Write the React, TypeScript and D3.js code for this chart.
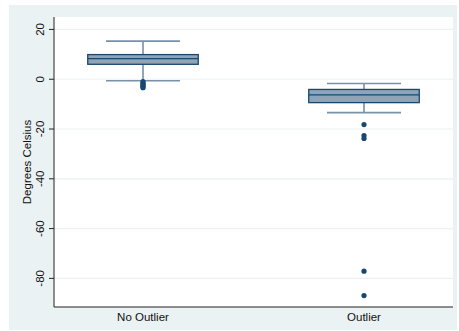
import React from "react";
import * as d3 from "d3";

// Box-plot summary per group (degrees Celsius)
const categories = ["No Outlier", "Outlier"];
const whiskerHigh = [15.3, -1.7];
const q3 = [9.9, -4.1];
const median = [8.3, -6.3];
const q1 = [6.0, -9.4];
const whiskerLow = [-0.6, -13.4];
const outliers = [
  [-1.0, -1.5, -2.0, -2.5, -3.0, -3.4],
  [-18.2, -22.6, -23.8, -77.1, -86.9],
];
const yTicks = [20, 0, -20, -40, -60, -80];

const W = 459;
const H = 331;
const plot = { left: 54, right: 453, top: 17, bottom: 307 };
const FONT = "'Liberation Sans', Arial, sans-serif";
const NAVY = "#1a476f";
const BOXFILL = "#8ea4b9";
const WHISKER = "#7890a8";

export default function App() {
  const y = d3.scaleLinear().domain([-91.5, 25]).range([plot.bottom, plot.top]);
  const x = d3
    .scalePoint<string>()
    .domain(categories)
    .range([plot.left, plot.right])
    .padding(0.4027);
  const step = x.step();
  const boxW = step * 0.5;
  const capW = boxW * 0.67;

  return (
    <div style={{ position: "fixed", left: 0, top: 0 }}>
      <svg width={W} height={H} style={{ display: "block" }}>
        <rect x={0} y={0} width={W} height={H} fill="#ffffff" />
        <rect x={9} y={5} width={448} height={325} fill="#eaf2f3" />
        <rect
          x={plot.left}
          y={plot.top}
          width={plot.right - plot.left}
          height={plot.bottom - plot.top}
          fill="#ffffff"
        />
        {/* gridlines */}
        {yTicks.map((t) => (
          <line
            key={"g" + t}
            x1={plot.left}
            x2={plot.right}
            y1={y(t)}
            y2={y(t)}
            stroke="#eaf2f3"
            strokeWidth={1.2}
          />
        ))}
        {/* boxes */}
        {categories.map((c, i) => {
          const cx = x(c) as number;
          return (
            <g key={c}>
              <line x1={cx} x2={cx} y1={y(whiskerHigh[i])} y2={y(q3[i])} stroke={WHISKER} strokeWidth={1.6} />
              <line x1={cx} x2={cx} y1={y(q1[i])} y2={y(whiskerLow[i])} stroke={WHISKER} strokeWidth={1.6} />
              <line
                x1={cx - capW / 2}
                x2={cx + capW / 2}
                y1={y(whiskerHigh[i])}
                y2={y(whiskerHigh[i])}
                stroke={WHISKER}
                strokeWidth={1.6}
              />
              <line
                x1={cx - capW / 2}
                x2={cx + capW / 2}
                y1={y(whiskerLow[i])}
                y2={y(whiskerLow[i])}
                stroke={WHISKER}
                strokeWidth={1.6}
              />
              <rect
                x={cx - boxW / 2}
                y={y(q3[i])}
                width={boxW}
                height={y(q1[i]) - y(q3[i])}
                fill={BOXFILL}
                stroke={NAVY}
                strokeWidth={1.3}
              />
              <line
                x1={cx - boxW / 2}
                x2={cx + boxW / 2}
                y1={y(median[i])}
                y2={y(median[i])}
                stroke={NAVY}
                strokeWidth={1.3}
              />
              {outliers[i].map((v, j) => (
                <circle key={j} cx={cx} cy={y(v)} r={2.6} fill={NAVY} />
              ))}
            </g>
          );
        })}
        {/* axes */}
        <line x1={plot.left} x2={plot.left} y1={plot.top} y2={plot.bottom} stroke="#222" strokeWidth={1} />
        <line x1={plot.left} x2={plot.right} y1={plot.bottom} y2={plot.bottom} stroke="#222" strokeWidth={1.2} />
        {yTicks.map((t) => (
          <g key={"t" + t}>
            <line x1={plot.left - 5} x2={plot.left} y1={y(t)} y2={y(t)} stroke="#222" strokeWidth={1} />
            <text
              transform={`translate(${44},${y(t)}) rotate(-90)`}
              textAnchor="middle"
              fontFamily={FONT}
              fontSize={11.5}
              fill="#111"
            >
              {t}
            </text>
          </g>
        ))}
        {categories.map((c) => (
          <text
            key={"l" + c}
            x={x(c) as number}
            y={320.5}
            textAnchor="middle"
            fontFamily={FONT}
            fontSize={11.5}
            fill="#111"
          >
            {c}
          </text>
        ))}
        <text
          transform={`translate(${31},${(plot.top + plot.bottom) / 2}) rotate(-90)`}
          textAnchor="middle"
          fontFamily={FONT}
          fontSize={11.5}
          fill="#111"
        >
          Degrees Celsius
        </text>
      </svg>
    </div>
  );
}
